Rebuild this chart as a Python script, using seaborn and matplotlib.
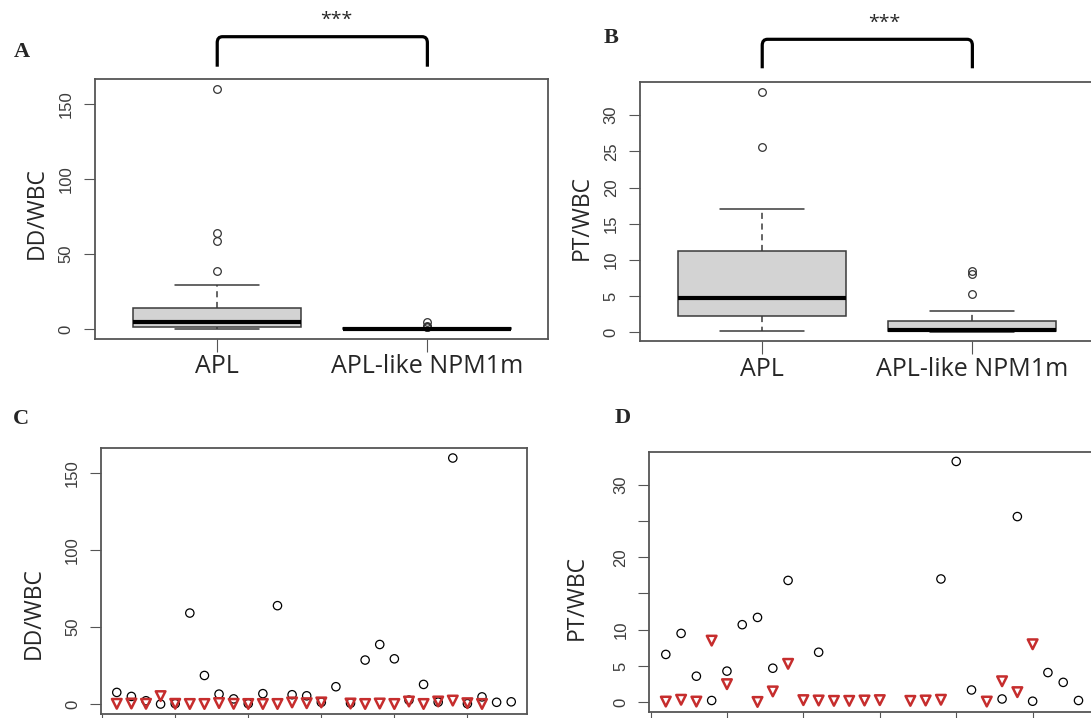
import numpy as np
import pandas as pd
import seaborn as sns
import matplotlib.pyplot as plt
import matplotlib.transforms as mtransforms
from matplotlib.path import Path
from matplotlib.patches import PathPatch

# values (patient index 1..28, nan = no point drawn)
groups = ['APL', 'APL-like NPM1m']
patient = np.arange(1, 29)

dd_apl = [7.6, 5.0, 2.2, 0.05, 0.3, 59.1, 18.6, 6.5, 3.4, 0.3, 6.8, 63.9, 6.1, 5.4,
          1.2, 11.3, 0.6, 28.6, 38.7, 29.4, 2.6, 12.8, 1.3, 159.7, 0.3, 4.7, 1.2, 1.5]
dd_npm = [0.2, 0.4, 0.2, 5.2, 0.2, 0.1, 0.1, 0.7, 0.2, 0.1, 0.1, 0.1, 1.1, 0.6,
          1.1, np.nan, 0.4, 0.1, 0.4, 0.1, 1.7, 0.1, 1.7, 2.3, 0.6, 0.1, np.nan, np.nan]
pt_apl = [6.6, 9.5, 3.6, 0.25, 4.3, 10.7, 11.7, 4.7, 16.8, np.nan, 6.9, np.nan, np.nan, np.nan,
          np.nan, np.nan, np.nan, np.nan, 17.0, 33.2, 1.7, np.nan, 0.46, 25.6, 0.15, 4.1, 2.75, 0.25]
pt_npm = [0.1, 0.35, 0.1, 8.5, 2.5, np.nan, 0.05, 1.5, 5.3, 0.3, 0.25, 0.2, 0.2, 0.25,
          0.3, np.nan, 0.2, 0.25, 0.35, np.nan, np.nan, 0.1, 2.9, 1.4, 8.0, np.nan, np.nan, np.nan]

df_dd = pd.DataFrame({'group': [groups[0]] * 28 + [groups[1]] * 28, 'value': dd_apl + dd_npm})
df_pt = pd.DataFrame({'group': [groups[0]] * 28 + [groups[1]] * 28, 'value': pt_apl + pt_npm})

sns.set_style('ticks')
plt.rcParams['font.family'] = ['Open Sans', 'DejaVu Sans']

W, H = 1091, 718
fig = plt.figure(figsize=(W / 100, H / 100), dpi=100)


def px_axes(left, top, right, bottom):
    return fig.add_axes([left / W, 1 - bottom / H, (right - left) / W, (bottom - top) / H])


axA = px_axes(94.5, 79, 548, 339)
axB = px_axes(639.5, 82, 1093, 341.3)
axC = px_axes(101, 448, 527, 714)
axD = px_axes(649.3, 452, 1095, 711.6)

grey = '#555555'
red = '#c62d2d'

for ax, df in [(axA, df_dd), (axB, df_pt)]:
    sns.boxplot(data=df, x='group', y='value', order=groups, ax=ax, color='#d3d3d3',
                width=0.8, linecolor='#3a3a3a', linewidth=1.1, fliersize=5.5, saturation=1,
                medianprops=dict(color='black', linewidth=3),
                whiskerprops=dict(linestyle=(0, (4, 3))),
                flierprops=dict(marker='o', markerfacecolor='none',
                                markeredgecolor='#333333', markeredgewidth=0.9))
    ax.set_xlim(-0.584, 1.574)
    ax.set_xlabel('')
    ax.tick_params(axis='x', labelsize=18, pad=2, length=9, color=grey)

for ax, apl, npm in [(axC, dd_apl, dd_npm), (axD, pt_apl, pt_npm)]:
    sns.scatterplot(x=patient, y=apl, ax=ax, marker='o', s=36, facecolor='none',
                    edgecolor='black', linewidth=0.9)
    sns.scatterplot(x=patient, y=npm, ax=ax, marker='v', s=48, facecolor='none',
                    edgecolor=red, linewidth=1.8)
    ax.set_xlim(-0.08, 29.08)
    ax.set_xticks(range(0, 30, 5))
    ax.set_xticklabels([])
    ax.tick_params(axis='x', length=9, color=grey)

axA.set_ylim(-6.4, 166.5)
axC.set_ylim(-6.4, 166.2)
axA.set_yticks([0, 50, 100, 150])
axC.set_yticks([0, 50, 100, 150])
axB.set_ylim(-1.28, 34.6)
axB.set_yticks(range(0, 35, 5))
axD.set_ylim(-1.28, 34.5)
axD.set_yticks(range(0, 35, 5))
axD.set_yticklabels(['0', '5', '10', '', '20', '', '30'])

labels = {axA: ('DD/WBC', -0.100, 0.485), axB: ('PT/WBC', -0.100, 0.479),
          axC: ('DD/WBC', -0.130, 0.38), axD: ('PT/WBC', -0.135, 0.441)}
for ax, (txt, lx, ly) in labels.items():
    ax.set_ylabel(txt, fontsize=16.5)
    ax.yaxis.set_label_coords(lx, ly)
    ax.tick_params(axis='y', labelrotation=90, labelsize=12, labelcolor='#3c3c3c',
                   length=8, color=grey, pad=7)
    for t in ax.get_yticklabels():
        t.set_fontfamily('Liberation Sans')
        t.set_va('center')
    for sp in ax.spines.values():
        sp.set_visible(True)
        sp.set_color(grey)
        sp.set_linewidth(1.3)

# significance brackets above the boxplots
for ax, top, bottom, star_x, star_y in [(axA, 36.7, 66.7, 336, 20), (axB, 39.3, 68.3, 884, 23)]:
    tr = mtransforms.blended_transform_factory(ax.transData, fig.transFigure)
    y0, y1 = 1 - bottom / H, 1 - top / H
    rx, ry = 0.025, 6 / H
    verts = [(0, y0), (0, y1 - ry), (0, y1), (rx, y1), (1 - rx, y1), (1, y1), (1, y1 - ry), (1, y0)]
    codes = [Path.MOVETO, Path.LINETO, Path.CURVE3, Path.CURVE3, Path.LINETO,
             Path.CURVE3, Path.CURVE3, Path.LINETO]
    fig.add_artist(PathPatch(Path(verts, codes), transform=tr, fill=False,
                             lw=2.3, color='black', capstyle='butt'))
    fig.text(star_x / W, 1 - star_y / H, '***', ha='center', va='center', fontsize=14)

for letter, x, y in [('A', 22, 52), ('B', 611, 38), ('C', 21, 419), ('D', 623, 418)]:
    fig.text(x / W, 1 - y / H, letter, ha='center', va='center', fontsize=16,
             fontweight='bold', fontfamily='Liberation Serif')

fig.savefig('out.png', dpi=100)
